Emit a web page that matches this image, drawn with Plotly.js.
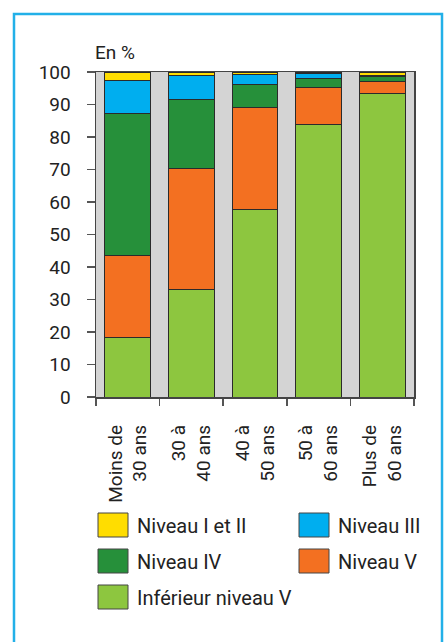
<!DOCTYPE html>
<html>
<head>
<meta charset="utf-8">
<script src="https://cdn.plot.ly/plotly-3.0.1.min.js"></script>
<style>
html,body{margin:0;padding:0;background:#fff;}
#chart{width:444px;height:642px;}
</style>
</head>
<body>
<div id="chart"></div>
<script>
// Categories (age groups)
var categories = ["Moins de<br>30 ans", "30 à<br>40 ans", "40 à<br>50 ans", "50 à<br>60 ans", "Plus de<br>60 ans"];
// Series values (in %), stacked bottom to top
var inferieurNiveauV = [18.4, 33.1, 57.8, 84.0, 93.3];
var niveauV          = [25.2, 37.1, 31.2, 11.3, 3.7];
var niveauIV         = [43.7, 21.4, 7.3, 2.7, 1.5];
var niveauIII        = [10.2, 7.3, 3.0, 1.6, 0.5];
var niveauIetII      = [2.5, 1.1, 0.7, 0.4, 1.0];
var seriesNames = ["Inférieur niveau V", "Niveau V", "Niveau IV", "Niveau III", "Niveau I et II"];
var yTickValues = [0, 10, 20, 30, 40, 50, 60, 70, 80, 90, 100];

var colors = {
  "Niveau I et II": "#FFDD00",
  "Niveau III": "#00AEEF",
  "Niveau IV": "#26903A",
  "Niveau V": "#F37021",
  "Inférieur niveau V": "#8DC63F"
};
var seriesData = [inferieurNiveauV, niveauV, niveauIV, niveauIII, niveauIetII];
var FONT = "Roboto, 'Liberation Sans', Arial, sans-serif";

var traces = seriesNames.map(function(name, i){
  return {
    type: "bar",
    name: name,
    x: categories,
    y: seriesData[i],
    marker: {color: colors[name], line: {color: "#2b2b2b", width: 1}},
    showlegend: false,
    hoverinfo: "skip"
  };
});

// rotated tick labels: pad each line's end so text sits away from the axis
var PAD = "\u00A0\u00A0\u00A0\u00A0";
var xTickText = categories.map(function(c){
  return c.split("<br>").map(function(s){ return s + PAD; }).join("<br>");
});

// plot area geometry in pixels (for custom legend / frame)
var W = 444, H = 642, mL = 96, mR = 30, mT = 72, mB = 245;
var pw = W - mL - mR, ph = H - mT - mB;
function px(x){ return (x - mL) / pw; }
function py(y){ return (H - mB - y) / ph; }

var shapes = [];
var annotations = [];

// outer frame
shapes.push({type:"rect", xref:"paper", yref:"paper",
  x0: px(14), x1: px(442), y0: py(14), y1: py(660),
  line:{color:"#22B0E8", width:2.5}, fillcolor:"rgba(0,0,0,0)", layer:"below"});

// custom legend
var legendOrder = ["Niveau I et II", "Niveau III", "Niveau IV", "Niveau V", "Inférieur niveau V"];
var colX = [98, 299];
var rowY = [525, 561, 597];
legendOrder.forEach(function(name, i){
  var col = i % 2, row = Math.floor(i / 2);
  var bx = colX[col], cy = rowY[row];
  shapes.push({type:"rect", xref:"paper", yref:"paper",
    x0: px(bx), x1: px(bx + 30), y0: py(cy - 12), y1: py(cy + 12),
    fillcolor: colors[name], line:{color:"#444", width:1}});
  annotations.push({xref:"paper", yref:"paper", x: px(bx + 37), y: py(cy + 1),
    xanchor:"left", yanchor:"middle", showarrow:false, text:name,
    font:{family:FONT, size:20, color:"#222"}});
});

// "En %" label
annotations.push({xref:"paper", yref:"paper", x: px(93), y: py(53),
  xanchor:"left", yanchor:"middle", showarrow:false, text:"En %",
  font:{family:FONT, size:19, color:"#222"}});

var layout = {
  width: W, height: H,
  margin: {l: mL, r: mR, t: mT, b: mB, pad: 0},
  paper_bgcolor: "#ffffff",
  plot_bgcolor: "#D4D4D4",
  barmode: "stack",
  bargap: 0.28,
  showlegend: false,
  font: {family: FONT, size: 19, color: "#222"},
  xaxis: {
    type: "category",
    tickson: "boundaries",
    tickvals: categories,
    ticktext: xTickText,
    ticks: "outside", ticklen: 7, tickwidth: 1.5, tickcolor: "#555",
    tickangle: -90,
    showline: true, mirror: true, linecolor: "#444", linewidth: 1.5,
    showgrid: false, zeroline: false,
    tickfont: {family: FONT, size: 19, color: "#222"}
  },
  yaxis: {
    range: [0, 100],
    tickvals: yTickValues,
    ticktext: yTickValues.map(String),
    ticks: "outside", ticklen: 8, tickwidth: 1.5, tickcolor: "#555",
    ticklabelstandoff: 12,
    showline: true, mirror: true, linecolor: "#444", linewidth: 1.5,
    showgrid: false, zeroline: false,
    tickfont: {family: FONT, size: 19, color: "#222"}
  },
  shapes: shapes,
  annotations: annotations
};

Plotly.newPlot("chart", traces, layout, {staticPlot: true, displayModeBar: false});
</script>
</body>
</html>
